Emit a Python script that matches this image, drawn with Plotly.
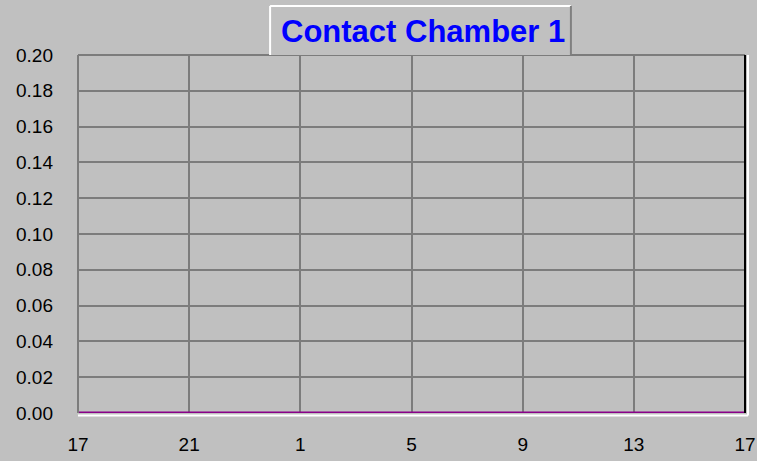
import plotly.graph_objects as go

# Data
hour_labels = ["17", "21", "1", "5", "9", "13", "17"]
tick_positions = [0, 4, 8, 12, 16, 20, 24]          # elapsed hours from 17:00
elapsed_hours = list(range(0, 25))                    # hourly samples
chamber_values = [0.0] * 25                           # reading stays at 0.00
y_ticks = [0.00, 0.02, 0.04, 0.06, 0.08, 0.10, 0.12, 0.14, 0.16, 0.18, 0.20]

BG = "#c0c0c0"
GRID = "#7c7c7c"
FONT = "Liberation Sans, Arial, sans-serif"

fig = go.Figure()
fig.add_trace(go.Scatter(
    x=elapsed_hours, y=chamber_values, mode="lines",
    line=dict(color="#880088", width=3), cliponaxis=False,
    hoverinfo="skip", showlegend=False))

# title box (paper coordinates, relative to plot area)
bx0, bx1, by0, by1 = 0.288, 0.739, 1.0, 1.137

fig.update_layout(
    width=757, height=461,
    paper_bgcolor=BG, plot_bgcolor=BG,
    margin=dict(l=78, r=12, t=55, b=48, autoexpand=False),
    font=dict(family=FONT, size=19, color="#000000"),
    xaxis=dict(range=[0, 24], tickvals=tick_positions, ticktext=hour_labels,
               showgrid=True, gridcolor=GRID, gridwidth=2, zeroline=False,
               showline=False, ticks="", ticklabelstandoff=18,
               automargin=False, fixedrange=True),
    yaxis=dict(range=[0, 0.2], tickvals=y_ticks,
               ticktext=[f"{v:.2f}" for v in y_ticks],
               showgrid=True, gridcolor=GRID, gridwidth=2, zeroline=False,
               showline=False, ticks="", ticklabelstandoff=24,
               automargin=False, fixedrange=True),
    shapes=[
        # 3D frame: left/top grey, right black + white, bottom white
        dict(type="line", xref="paper", yref="paper", x0=0, x1=0, y0=0, y1=1,
             line=dict(color=GRID, width=2)),
        dict(type="line", xref="paper", yref="paper", x0=0, x1=1, y0=1, y1=1,
             line=dict(color=GRID, width=2)),
        dict(type="line", xref="paper", yref="paper", x0=1, x1=1, y0=0, y1=1,
             line=dict(color="#000000", width=2)),
        dict(type="line", xref="paper", yref="paper", x0=1.0045, x1=1.0045, y0=-0.007, y1=1,
             line=dict(color="#ffffff", width=2)),
        dict(type="line", xref="paper", yref="paper", x0=0, x1=1.0045, y0=-0.007, y1=-0.007,
             line=dict(color="#ffffff", width=2)),
        # title box: white left/top, grey right
        dict(type="rect", xref="paper", yref="paper", x0=bx0, x1=bx1, y0=by0, y1=by1,
             fillcolor=BG, line=dict(width=0), layer="above"),
        dict(type="line", xref="paper", yref="paper", x0=bx0, x1=bx0, y0=by0, y1=by1,
             line=dict(color="#ffffff", width=2)),
        dict(type="line", xref="paper", yref="paper", x0=bx0, x1=bx1, y0=by1, y1=by1,
             line=dict(color="#ffffff", width=2)),
        dict(type="line", xref="paper", yref="paper", x0=bx1, x1=bx1, y0=by0, y1=by1,
             line=dict(color="#808080", width=2)),
    ],
    annotations=[dict(
        text="<b>Contact Chamber 1</b>", xref="paper", yref="paper",
        x=(bx0 + bx1) / 2 + 0.004, y=(by0 + by1) / 2, xanchor="center", yanchor="middle",
        yshift=-1, showarrow=False, font=dict(family=FONT, size=31, color="#0000ff"))],
)

fig.write_html("out.html", config={"displayModeBar": False},
               post_script="document.body.style.margin='0';")
